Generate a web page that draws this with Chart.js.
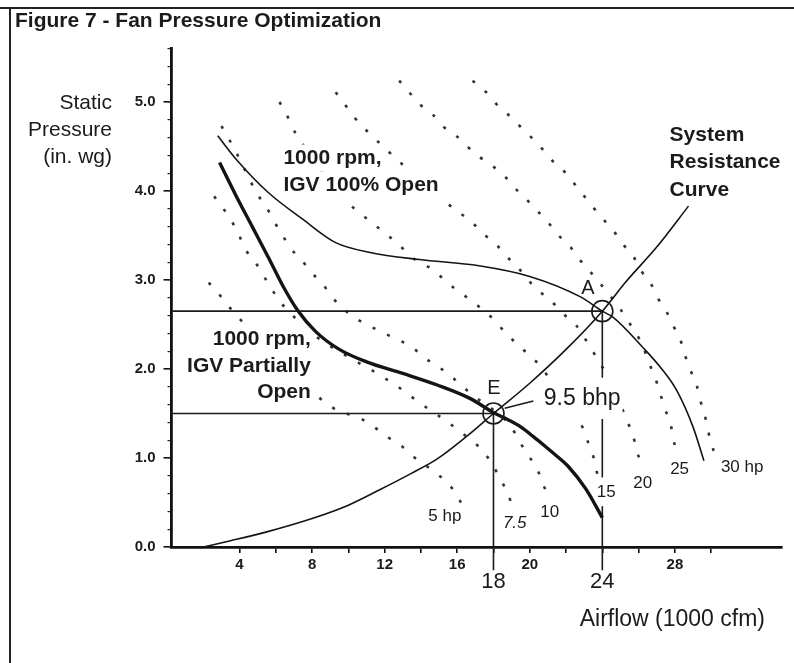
<!DOCTYPE html>
<html><head><meta charset="utf-8">
<script src="https://cdn.jsdelivr.net/npm/chart.js@4.4.1/dist/chart.umd.min.js"></script>
<style>html,body{margin:0;padding:0;background:#fff}canvas{display:block}</style>
</head><body>
<canvas id="c" width="794" height="663"></canvas>
<script>
// ---------- data ----------
const xTickLabels = ['4', '8', '12', '16', '20', '28', '32'];
const yTickLabels = ['0.0', '1.0', '2.0', '3.0', '4.0', '5.0'];

const systemX = [2.0, 3.5, 5.5, 8.0, 10.0, 11.7, 13.5, 14.9, 16.5, 18.0, 20.0, 22.0, 24.0, 25.3, 27.0, 28.75];
const systemY = [0.0, 0.07, 0.17, 0.32, 0.47, 0.64, 0.83, 0.99, 1.24, 1.50, 1.84, 2.22, 2.65, 2.98, 3.37, 3.83];

const fullOpenX = [2.8, 3.8, 5.6, 7.5, 9.3, 11.2, 13.9, 17.2, 20.0, 22.8, 24.0, 24.6, 26.2, 27.2, 28.1, 29.0, 29.6];
const fullOpenY = [4.62, 4.36, 3.98, 3.68, 3.42, 3.31, 3.23, 3.16, 3.04, 2.81, 2.65, 2.58, 2.25, 2.02, 1.76, 1.35, 0.97];

const partialX = [2.9, 3.8, 4.7, 5.6, 6.4, 7.2, 8.2, 9.5, 11.0, 13.0, 14.9, 16.7, 18.0, 18.8, 19.5, 20.2, 20.8, 21.5, 22.1, 23.1, 24.0];
const partialY = [4.32, 3.95, 3.60, 3.25, 2.93, 2.66, 2.42, 2.22, 2.08, 1.95, 1.82, 1.67, 1.51, 1.43, 1.35, 1.24, 1.14, 1.02, 0.91, 0.65, 0.33];

const hp5X = [2.3, 3.0, 3.5, 9.1, 10.7, 11.4, 12.2, 12.9, 13.5, 14.9, 15.6, 16.1, 16.5];
const hp5Y = [2.97, 2.81, 2.68, 1.57, 1.44, 1.35, 1.23, 1.14, 1.03, 0.82, 0.69, 0.54, 0.37];
const hp75X = [2.6, 3.15, 3.6, 4.0, 4.4, 4.9, 5.35, 5.8, 6.3, 6.9, 7.5, 11.9, 12.6, 13.4, 14.0, 15.5, 16.2, 16.9, 17.5, 18.4, 18.8, 19.1];
const hp75Y = [3.94, 3.79, 3.65, 3.49, 3.32, 3.19, 3.04, 2.89, 2.74, 2.61, 2.48, 1.91, 1.82, 1.70, 1.61, 1.40, 1.29, 1.18, 1.06, 0.76, 0.59, 0.43];
const hp10X = [3.0, 3.4, 3.8, 5.0, 5.45, 5.9, 6.35, 6.8, 7.4, 7.9, 8.6, 9.1, 9.7, 10.4, 11.1, 11.8, 12.7, 13.5, 14.1, 14.85, 15.6, 16.2, 16.9, 18.9, 19.35, 19.8, 20.35, 20.7, 21.0];
const hp10Y = [4.73, 4.59, 4.44, 3.96, 3.83, 3.66, 3.51, 3.36, 3.23, 3.10, 2.95, 2.81, 2.68, 2.57, 2.49, 2.42, 2.33, 2.25, 2.14, 2.04, 1.93, 1.82, 1.70, 1.37, 1.22, 1.06, 0.90, 0.73, 0.56];
const hp15X = [6.2, 6.55, 6.9, 7.3, 9.95, 10.6, 11.25, 12.0, 12.65, 13.8, 14.65, 15.3, 15.95, 16.7, 18.05, 18.6, 19.25, 19.95, 20.55, 21.1, 22.6, 23.05, 23.3, 23.6, 23.75];
const hp15Y = [5.0, 4.88, 4.72, 4.58, 3.87, 3.76, 3.65, 3.53, 3.42, 3.21, 3.12, 3.0, 2.89, 2.78, 2.55, 2.42, 2.29, 2.16, 2.04, 1.89, 1.46, 1.28, 1.12, 0.95, 0.78];
const hp20X = [9.3, 9.85, 10.4, 11.0, 15.4, 16.1, 16.8, 17.5, 18.15, 18.7, 19.35, 19.9, 20.55, 21.2, 21.8, 22.6, 23.05, 23.5, 23.95, 24.4, 25.4, 25.7, 25.9, 26.2];
const hp20Y = [5.11, 4.96, 4.81, 4.68, 3.87, 3.76, 3.65, 3.51, 3.40, 3.27, 3.14, 3.00, 2.87, 2.76, 2.63, 2.48, 2.34, 2.19, 2.04, 1.89, 1.40, 1.25, 1.08, 0.91];
const hp25X = [12.8, 13.35, 13.9, 14.65, 15.2, 15.95, 16.5, 17.25, 17.95, 18.6, 19.15, 19.8, 20.45, 21.0, 21.55, 22.2, 22.75, 23.3, 23.85, 24.4, 24.9, 25.45, 26.25, 26.55, 26.9, 27.2, 27.45, 27.75, 27.9, 28.1];
const hp25Y = [5.24, 5.11, 4.98, 4.86, 4.73, 4.62, 4.51, 4.38, 4.28, 4.17, 4.04, 3.91, 3.77, 3.65, 3.51, 3.38, 3.23, 3.10, 2.97, 2.83, 2.70, 2.53, 2.25, 2.08, 1.91, 1.72, 1.55, 1.40, 1.23, 1.05];
const hp30X = [16.85, 17.6, 18.15, 18.8, 19.45, 20.1, 20.7, 21.25, 21.95, 22.5, 23.05, 23.6, 24.15, 24.7, 25.15, 25.7, 26.15, 26.65, 27.05, 27.55, 27.9, 28.3, 28.55, 28.85, 29.2, 29.4, 29.65, 29.85, 30.05, 30.3];
const hp30Y = [5.24, 5.11, 4.98, 4.86, 4.73, 4.60, 4.47, 4.34, 4.21, 4.07, 3.93, 3.79, 3.66, 3.53, 3.40, 3.27, 3.10, 2.97, 2.80, 2.64, 2.49, 2.33, 2.16, 1.99, 1.82, 1.65, 1.48, 1.29, 1.14, 0.97];

// operating points A and E
const opX = [24, 18];
const opY = [2.65, 1.5];
const opNames = ['A', 'E'];
const leaderX = [18.62, 20.2];
const leaderY = [1.56, 1.64];

// ---------- chart ----------
const FONT = "'Liberation Sans', Arial, Helvetica, sans-serif";
const INK = '#1b1b1b';
const X_MIN = 0.25, X_MAX = 33.9, Y_MIN = 0, Y_MAX = 5.6, Y_LOW = -0.26;
const pts = (xs, ys) => xs.map((x, i) => ({ x, y: ys[i] }));

function curve(label, xs, ys, w) {
  return { label, data: pts(xs, ys), showLine: true, borderColor: '#141414', borderWidth: w,
    pointRadius: 0, cubicInterpolationMode: 'monotone', fill: false, order: 1 };
}
function hpLine(label, xs, ys) {
  return { label, data: pts(xs, ys), showLine: true, borderColor: '#333333', borderWidth: 2.6,
    borderDash: [3, 13], borderCapStyle: 'butt', pointRadius: 0, cubicInterpolationMode: 'monotone',
    fill: false, order: 10 };
}
function refLine(label, xs, ys) {
  return { label, data: pts(xs, ys), showLine: true, borderColor: '#1b1b1b', borderWidth: 1.6,
    pointRadius: 0, fill: false, order: 5, clip: false };
}

const datasets = [
  curve('System Resistance Curve', systemX, systemY, 1.6),
  curve('1000 rpm, IGV 100% Open', fullOpenX, fullOpenY, 1.6),
  curve('1000 rpm, IGV Partially Open', partialX, partialY, 3.4),
  { label: 'Operating points', data: pts(opX, opY), showLine: false, pointRadius: 10.5,
    pointStyle: 'circle', pointBorderWidth: 1.6, borderColor: '#1b1b1b',
    backgroundColor: 'rgba(0,0,0,0)', order: 0 },
  { label: 'leader', data: pts(leaderX, leaderY), showLine: true, borderColor: '#1b1b1b',
    borderWidth: 1.6, pointRadius: 0, order: 1 },
  refLine('A horizontal', [X_MIN, opX[0]], [opY[0], opY[0]]),
  refLine('A vertical', [opX[0], opX[0]], [opY[0], Y_LOW]),
  refLine('E horizontal', [X_MIN, opX[1]], [opY[1], opY[1]]),
  refLine('E vertical', [opX[1], opX[1]], [opY[1], Y_LOW]),
  hpLine('5 hp', hp5X, hp5Y),
  hpLine('7.5 hp', hp75X, hp75Y),
  hpLine('10 hp', hp10X, hp10Y),
  hpLine('15 hp', hp15X, hp15Y),
  hpLine('20 hp', hp20X, hp20Y),
  hpLine('25 hp', hp25X, hp25Y),
  hpLine('30 hp', hp30X, hp30Y)
];

// annotation text placed in data units
const notes = [
  { lines: ['1000 rpm,', 'IGV 100% Open'], x: 6.42, y: 4.37, align: 'left', font: 'bold 21px', lh: 27, box: true },
  { lines: ['1000 rpm,', 'IGV Partially', 'Open'], x: 7.93, y: 2.33, align: 'right', font: 'bold 21px', lh: 26.5, box: true },
  { lines: ['System', 'Resistance', 'Curve'], x: 27.71, y: 4.63, align: 'left', font: 'bold 21px', lh: 27.5, box: false },
  { lines: [opNames[0]], x: 23.21, y: 2.90, align: 'center', font: '20px', lh: 20, box: false },
  { lines: [opNames[1]], x: 18.02, y: 1.78, align: 'center', font: '20px', lh: 20, box: false },
  { lines: ['9.5 bhp'], x: 22.89, y: 1.67, align: 'center', font: '23px', lh: 23, box: true, padY: 8 },
  { lines: ['5 hp'], x: 15.32, y: 0.34, align: 'center', font: '17px', lh: 17, box: true },
  { lines: ['7.5'], x: 19.17, y: 0.27, align: 'center', font: 'italic 17px', lh: 17, box: true },
  { lines: ['10'], x: 21.1, y: 0.39, align: 'center', font: '17px', lh: 17, box: true },
  { lines: ['15'], x: 24.21, y: 0.62, align: 'center', font: '17px', lh: 17, box: true, padY: 5 },
  { lines: ['20'], x: 26.23, y: 0.72, align: 'center', font: '17px', lh: 17, box: true },
  { lines: ['25'], x: 28.26, y: 0.87, align: 'center', font: '17px', lh: 17, box: true },
  { lines: ['30 hp'], x: 31.71, y: 0.90, align: 'center', font: '17px', lh: 17, box: true }
];

function notePlaces(chart, n, cb) {
  const xs = chart.scales.x, ys = chart.scales.y;
  const px = xs.getPixelForValue(n.x), py0 = ys.getPixelForValue(n.y);
  n.lines.forEach((t, i) => cb(t, px, py0 + i * n.lh));
}
function drawBoxes(chart) {
  const ctx = chart.ctx;
  ctx.save();
  ctx.fillStyle = '#ffffff';
  notes.filter(n => n.box).forEach(n => {
    ctx.font = n.font + ' ' + FONT;
    const size = parseFloat(n.font.replace(/[^0-9.]/g, ' ').trim().split(' ').pop());
    const padY = n.padY || 2;
    notePlaces(chart, n, (t, px, py) => {
      const w = ctx.measureText(t).width + 4;
      let x0 = px - w / 2;
      if (n.align === 'left') x0 = px - 2;
      if (n.align === 'right') x0 = px - w + 2;
      ctx.fillRect(x0, py - size * 0.55 - padY, w, size * 1.1 + 2 * padY);
    });
  });
  ctx.restore();
}
function drawNotes(chart) {
  const ctx = chart.ctx;
  ctx.save();
  ctx.fillStyle = INK;
  ctx.textBaseline = 'middle';
  notes.forEach(n => {
    ctx.font = n.font + ' ' + FONT;
    ctx.textAlign = n.align;
    notePlaces(chart, n, (t, px, py) => ctx.fillText(t, px, py));
  });
  ctx.restore();
}

const annotPlugin = {
  id: 'annot',
  beforeDatasetsDraw(chart) { chart.$boxesDone = false; },
  beforeDatasetDraw(chart, args) {
    const ds = chart.data.datasets[args.index];
    if (!chart.$boxesDone && ds.order <= 1) { drawBoxes(chart); chart.$boxesDone = true; }
  },
  afterDatasetsDraw(chart) {
    if (!chart.$boxesDone) { drawBoxes(chart); chart.$boxesDone = true; }
    drawNotes(chart);
  },
  afterDraw(chart) {
    const ctx = chart.ctx, xs = chart.scales.x, area = chart.chartArea;
    ctx.save();
    // frame
    ctx.strokeStyle = '#222'; ctx.lineWidth = 2;
    ctx.beginPath(); ctx.moveTo(0, 8); ctx.lineTo(794, 8); ctx.moveTo(10, 8); ctx.lineTo(10, 663); ctx.stroke();
    ctx.fillStyle = INK;
    // title
    ctx.font = 'bold 21px ' + FONT; ctx.textAlign = 'left'; ctx.textBaseline = 'alphabetic';
    ctx.fillText('Figure 7 - Fan Pressure Optimization', 15, 27);
    // y axis title
    ctx.font = '21px ' + FONT; ctx.textAlign = 'right'; ctx.textBaseline = 'middle';
    ['Static', 'Pressure', '(in. wg)'].forEach((t, i) => ctx.fillText(t, 112, 103 + i * 27));
    // x axis title
    ctx.font = '23px ' + FONT; ctx.textAlign = 'right';
    ctx.fillText('Airflow (1000 cfm)', 765, 620);
    // operating-point airflow values
    ctx.font = '22px ' + FONT; ctx.textAlign = 'center';
    [opX[1], opX[0]].forEach(v => ctx.fillText(String(v), xs.getPixelForValue(v), area.bottom + 35));
    ctx.restore();
  }
};

const Y_W = 62, X_H = 44;
new Chart(document.getElementById('c'), {
  type: 'scatter',
  data: { datasets },
  plugins: [annotPlugin],
  options: {
    responsive: false, animation: false, devicePixelRatio: 1,
    layout: { padding: { left: 171.5 - Y_W, top: 48.6, right: 12, bottom: 663 - 547 - X_H } },
    plugins: { legend: { display: false }, tooltip: { enabled: false }, title: { display: false } },
    scales: {
      x: {
        type: 'linear', position: 'bottom', min: X_MIN, max: X_MAX,
        border: { display: true, color: '#111', width: 2.8 },
        grid: { display: true, drawOnChartArea: false, drawTicks: true, tickLength: 6, color: '#111', lineWidth: 1.6 },
        ticks: { stepSize: 2, autoSkip: false, maxRotation: 0, padding: 3, color: INK,
          font: { family: FONT, size: 15, weight: 'bold' },
          callback: v => (xTickLabels.includes(String(v)) ? String(v) : '') },
        afterBuildTicks: s => { s.ticks = s.ticks.filter(t => Math.abs(t.value / 2 - Math.round(t.value / 2)) < 1e-6 && t.value > 0); },
        afterFit: s => { s.height = X_H; }
      },
      y: {
        type: 'linear', position: 'left', min: Y_MIN, max: Y_MAX, weight: 1,
        border: { display: true, color: '#111', width: 2.8 },
        grid: { display: true, drawOnChartArea: false, drawTicks: true, tickLength: 8, color: '#111', lineWidth: 1.6 },
        ticks: { stepSize: 1, autoSkip: false, padding: 8, color: INK,
          font: { family: FONT, size: 15, weight: 'bold' },
          callback: v => { const s = Number(v).toFixed(1); return yTickLabels.includes(s) && Math.abs(v - Math.round(v)) < 1e-6 ? s : ''; } },
        afterBuildTicks: s => { s.ticks = s.ticks.filter(t => Math.abs(t.value - Math.round(t.value)) < 1e-6); },
        afterFit: s => { s.width = Y_W; }
      },
      yMinor: {
        type: 'linear', position: 'left', min: Y_MIN, max: Y_MAX, weight: 0,
        border: { display: false },
        grid: { display: true, drawOnChartArea: false, drawTicks: true, tickLength: 4, color: '#222', lineWidth: 1.2 },
        ticks: { display: false, stepSize: 0.2, autoSkip: false },
        afterFit: s => { s.width = 0; }
      }
    }
  }
});
</script>
</body></html>
